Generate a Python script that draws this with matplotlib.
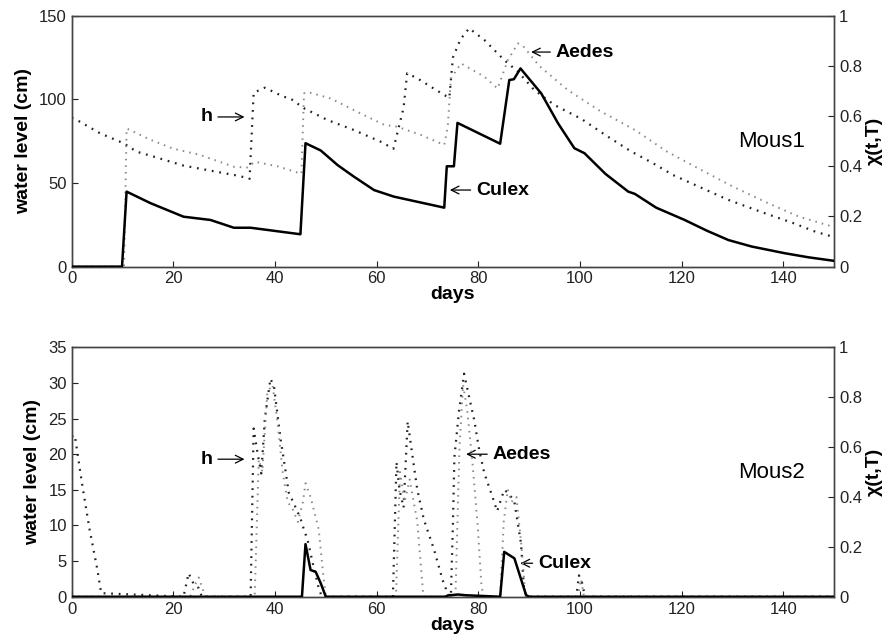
import numpy as np
import matplotlib
matplotlib.use('Agg')
import matplotlib.pyplot as plt

# ---------------- data ----------------
# Mous1 : water level h (cm, left axis)
m1_h_days = [0, 1, 5.6, 10.2, 12.8, 16.1, 22, 28, 33, 35.0, 35.8, 38.0, 41.7, 43, 45.7,
             50.3, 55.5, 60.8, 63.3, 65.3, 66.0, 68.0, 73.3, 74.3, 75.0, 76.5, 78.2, 81.2,
             85.1, 87.8, 91, 95, 100.3, 105.5, 110, 114.4, 118.3, 124, 129.2, 136.4, 142,
             146.3, 149.6]
m1_h = [89, 87.7, 79.7, 73.8, 68.7, 65.8, 60.4, 57, 54.2, 52.5, 104, 107, 101.6, 100.6, 94.7,
        87.7, 81.7, 74.7, 70.5, 95, 115.6, 112.6, 102.6, 101, 125, 136, 142.5, 135.5,
        123.5, 116.6, 105.6, 96.6, 88.3, 77.7, 69, 61.8, 54.8, 47, 39.9, 31.9, 26,
        20.9, 18]

# Mous1 : Aedes chi(t,T) (right axis)
m1_aedes_days = [0, 10.3, 10.8, 13.5, 15.1, 20, 25.3, 31.9, 34.5, 36, 40.5, 45.2, 45.7, 46.3,
                 51, 56.2, 61.5, 64, 68.7, 73.3, 74.0, 74.6, 76.6, 81.2, 83.8, 85.8, 87.8,
                 88.8, 92, 97.6, 104, 110.8, 117, 123.9, 130, 137, 143, 149.6]
m1_aedes = [0, 0, 0.551, 0.525, 0.509, 0.47, 0.445, 0.398, 0.395, 0.418, 0.40, 0.37, 0.69, 0.697,
            0.67, 0.617, 0.565, 0.558, 0.525, 0.485, 0.56, 0.75, 0.81, 0.757, 0.71, 0.823, 0.89,
            0.88, 0.80, 0.704, 0.62, 0.545, 0.46, 0.385, 0.32, 0.253, 0.20, 0.16]

# Mous1 : Culex chi(t,T)
m1_culex_days = [0, 9.9, 10.8, 15.5, 22, 27.3, 31.9, 35.2, 45, 46, 49, 52.3, 55.5, 59.5, 63.4,
                 73.3, 73.8, 75.2, 75.9, 84.3, 86.1, 87, 88.3, 92.4, 95.7, 98.9, 100.9, 105,
                 109.5, 110.8, 115, 120.6, 125, 129.2, 133.8, 140.4, 145, 150]
m1_culex = [0, 0, 0.299, 0.253, 0.199, 0.186, 0.155, 0.155, 0.129, 0.492, 0.463, 0.405, 0.359,
            0.305, 0.279, 0.235, 0.40, 0.40, 0.573, 0.49, 0.744, 0.747, 0.79, 0.69, 0.571,
            0.472, 0.452, 0.37, 0.299, 0.29, 0.235, 0.186, 0.143, 0.106, 0.08, 0.053, 0.037,
            0.023]

# Mous2 : water level h (cm)
m2_h_days = [0, 0.6, 2, 3.5, 5, 5.8, 22, 23, 24, 25, 25.6, 35.2, 35.8, 36.6, 37.3, 38.0,
             39.1, 39.8, 41.1, 42.0, 42.7, 43.7, 45, 45.7, 46.4, 47.5, 48.5, 49.2, 63.2,
             63.9, 64.5, 65.3, 66.1, 67, 68, 69.3, 71.3, 73, 74, 74.6, 75.0, 75.3, 76.2,
             77.2, 78.2, 79.2, 80.2, 81.2, 82.8, 83.7, 85.1, 86, 87.1, 88.4, 89, 89.5, 99.3,
             99.8, 100.4, 101, 150]
m2_h = [22.5, 22.7, 16, 9.5, 4, 0.5, 0, 3.3, 1.8, 1.2, 0, 0, 23.6, 20, 17.3, 25,
        30.6, 29.5, 22.1, 18, 14.6, 13.1, 11, 9.4, 8, 4.5, 1.5, 0, 0,
        18.9, 15, 12.5, 24.6, 20, 15, 10.8, 6.6, 2.3, 0.4, 0, 10, 19.6, 26,
        31.3, 28, 24.8, 20.5, 17.3, 14, 12, 15, 14.5, 13.3, 7.5, 1, 0, 0,
        3.0, 2.0, 0, 0]

# Mous2 : Aedes chi(t,T)
m2_aedes_days = [0, 23.3, 24.3, 25.0, 26.3, 36, 36.8, 37.5, 38.5, 39.5, 40.5, 41.5, 42.5,
                 43.5, 44.5, 45.5, 46, 47, 48.6, 49.6, 50, 63.8, 64.6, 65.5, 66.5, 68,
                 69.2, 75.5, 76.3, 77, 77.8, 78.8, 79.9, 80.6, 81, 84.3, 85, 85.8, 86.5,
                 87.5, 88.5, 89.3, 99.6, 100.2, 100.8, 150]
m2_aedes = [0, 0, 0.05, 0.077, 0, 0, 0.55, 0.5, 0.82, 0.85, 0.7, 0.5, 0.38,
            0.35, 0.3, 0.38, 0.455, 0.4, 0.27, 0.066, 0, 0, 0.5, 0.38, 0.47, 0.3,
            0, 0, 0.6, 0.85, 0.75, 0.55, 0.28, 0.05, 0, 0, 0.3, 0.43, 0.38,
            0.4, 0.2, 0, 0, 0.07, 0, 0]

# Mous2 : Culex chi(t,T)
m2_culex_days = [0, 45.3, 46, 47, 48, 49, 50, 73.5, 74, 76, 77.5, 84.3, 85.1, 87.1, 89.4,
                 90, 150]
m2_culex = [0, 0, 0.211, 0.107, 0.10, 0.054, 0, 0, 0.005, 0.009, 0.006, 0, 0.18, 0.154,
            0.007, 0, 0]

x_ticks = [0, 20, 40, 60, 80, 100, 120, 140]
chi_ticks = [0, 0.2, 0.4, 0.6, 0.8, 1]
chi_labels = ['0', '0.2', '0.4', '0.6', '0.8', '1']

# ---------------- style ----------------
plt.rcParams['font.family'] = ['Liberation Sans', 'DejaVu Sans']
plt.rcParams['axes.linewidth'] = 1.0

fig = plt.figure(figsize=(8.93, 6.44), dpi=100)

panels = [
    dict(pos=[0.0803, 0.586, 0.8537, 0.3895], h=(m1_h_days, m1_h),
         aedes=(m1_aedes_days, m1_aedes), culex=(m1_culex_days, m1_culex),
         hmax=150, hticks=[0, 50, 100, 150], name='Mous1', name_xy=(137.7, 75),
         h_lab=((26.5, 89.5), (34.0, 89.5)),
         aedes_lab=((101, 128.3), (90.4, 128.3)),
         culex_lab=((84.8, 45.8), (74.4, 45.8))),
    dict(pos=[0.0803, 0.0734, 0.8537, 0.3873], h=(m2_h_days, m2_h),
         aedes=(m2_aedes_days, m2_aedes), culex=(m2_culex_days, m2_culex),
         hmax=35, hticks=[0, 5, 10, 15, 20, 25, 30, 35], name='Mous2', name_xy=(137.7, 17.5),
         h_lab=((26.5, 19.3), (34.0, 19.3)),
         aedes_lab=((88.6, 20.0), (77.6, 20.0)),
         culex_lab=((97.0, 4.7), (88.3, 4.7))),
]

for p in panels:
    ax = fig.add_axes(p['pos'])
    ax2 = ax.twinx()

    # h : dark dotted line on the water-level axis
    ax.plot(p['h'][0], p['h'][1], color='#222222', lw=1.6,
            linestyle=(0, (0.8, 2.6)), zorder=3)
    # Aedes : lighter dotted, Culex : solid, on chi axis
    ax2.plot(p['aedes'][0], p['aedes'][1], color='#8a8a8a', lw=1.4,
             linestyle=(0, (0.8, 2.6)), zorder=2)
    ax2.plot(p['culex'][0], p['culex'][1], color='black', lw=1.8, zorder=4)

    ax.set_xlim(0, 150)
    ax.set_ylim(0, p['hmax'])
    ax2.set_ylim(0, 1)
    ax.set_xticks(x_ticks)
    ax.set_yticks(p['hticks'])
    ax2.set_yticks(chi_ticks)
    ax2.set_yticklabels(chi_labels)

    ax.tick_params(direction='in', length=4, labelsize=12, colors='#222222')
    ax2.tick_params(direction='in', length=4, labelsize=12, colors='#222222')
    for a in (ax, ax2):
        for s in a.spines.values():
            s.set_color('#444444')

    ax.set_xlabel('days', fontsize=14, fontweight='bold', labelpad=0)
    ax.set_ylabel('water level (cm)', fontsize=14, fontweight='bold', labelpad=5)
    ax2.set_ylabel('χ(t,T)', fontsize=14, fontweight='bold', labelpad=3)

    arrow = dict(arrowstyle='->', lw=0.9, color='black', shrinkA=2, shrinkB=0)
    (tx, ty), (px, py) = p['h_lab']
    ax.annotate('h', xy=(px, py), xytext=(tx, ty), fontsize=14, fontweight='bold',
                ha='center', va='center', arrowprops=arrow)
    (tx, ty), (px, py) = p['aedes_lab']
    ax.annotate('Aedes', xy=(px, py), xytext=(tx, ty), fontsize=14, fontweight='bold',
                ha='center', va='center', arrowprops=arrow)
    (tx, ty), (px, py) = p['culex_lab']
    ax.annotate('Culex', xy=(px, py), xytext=(tx, ty), fontsize=14, fontweight='bold',
                ha='center', va='center', arrowprops=arrow)
    ax.text(p['name_xy'][0], p['name_xy'][1], p['name'], fontsize=16,
            ha='center', va='center')

fig.savefig('out.png', dpi=100)
